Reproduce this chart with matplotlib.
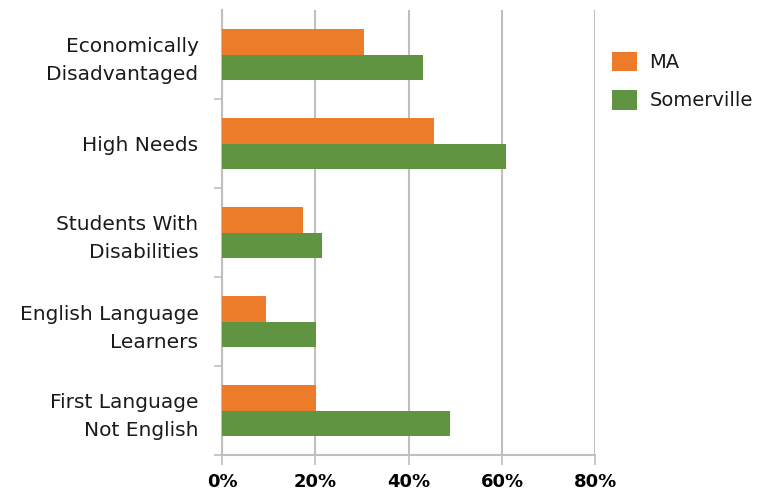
import numpy as np
import matplotlib
matplotlib.use("Agg")
import matplotlib.pyplot as plt
from matplotlib.patches import Patch

# Categories (top to bottom) and series values in percent
categories = ["Economically\nDisadvantaged", "High Needs", "Students With\nDisabilities",
              "English Language\nLearners", "First Language\nNot English"]
ma_values = [30.4, 45.4, 17.4, 9.4, 20.1]
somerville_values = [43.1, 60.9, 21.4, 20.1, 48.9]
x_ticks = [0, 20, 40, 60, 80]
x_tick_labels = ["0%", "20%", "40%", "60%", "80%"]

orange = "#EC7B2A"
green = "#619441"
grid_gray = "#BFBFBF"

plt.rcParams['font.family'] = ['DejaVu Sans']

fig = plt.figure(figsize=(7.66, 4.93), dpi=100)
ax = fig.add_axes([222 / 766, 1 - 455 / 493, (595.3 - 222) / 766, (455 - 10) / 493])

y = np.arange(len(categories))
h = 0.2875
ax.barh(y - h / 2, ma_values, height=h, color=orange, label="MA", zorder=3)
ax.barh(y + h / 2, somerville_values, height=h, color=green, label="Somerville", zorder=3)

ax.set_xlim(0, 80)
ax.set_ylim(len(categories) - 0.5, -0.5)

# vertical gridlines
for t in x_ticks:
    ax.axvline(t, color=grid_gray, lw=1.5, zorder=1)

ax.set_xticks(x_ticks)
ax.set_xticklabels(x_tick_labels, fontsize=13, fontweight="bold")
ax.tick_params(axis="x", length=7, width=1.2, color=grid_gray, pad=6)

ax.set_yticks(y)
ax.set_yticklabels(categories, fontsize=14.5, ha="right", linespacing=1.6, color="#1a1a1a")
ax.tick_params(axis="y", which="major", length=0, pad=17)
# separator ticks between categories (none at the very top)
ax.set_yticks(np.arange(0.5, len(categories)), minor=True)
ax.tick_params(axis="y", which="minor", length=6, width=1.2, color=grid_gray)

for side in ["top", "right"]:
    ax.spines[side].set_visible(False)
for side in ["left", "bottom"]:
    ax.spines[side].set_color(grid_gray)
    ax.spines[side].set_linewidth(1.5)

handles = [Patch(facecolor=orange, label="MA"), Patch(facecolor=green, label="Somerville")]
leg = fig.legend(handles=handles, loc="upper left", bbox_to_anchor=(594 / 766, 1 - 34 / 493),
                 frameon=False, fontsize=14, handlelength=1.3, handleheight=1.15,
                 labelspacing=0.95, handletextpad=0.65)
for t in leg.get_texts():
    t.set_color("#1a1a1a")

fig.savefig("out.png", dpi=100)
